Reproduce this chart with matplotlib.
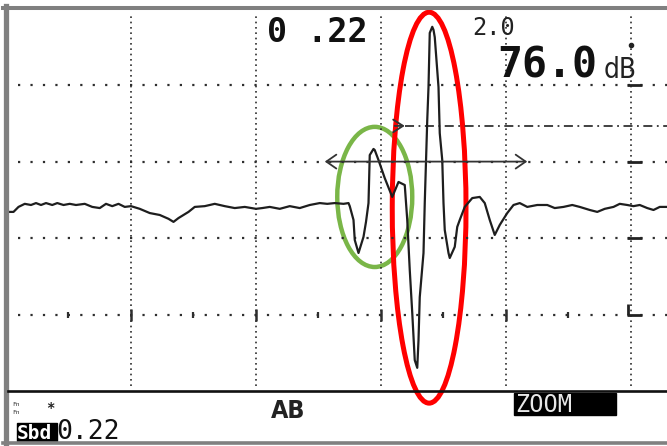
import matplotlib.pyplot as plt
from matplotlib.patches import Ellipse, Rectangle
from matplotlib.lines import Line2D

W, H = 667, 446  # output size in pixels

# ---------------- Data ----------------
# x: % of screen width (10 div = 100 %), y: % of full screen height
trace_x = [0.3, 0.6, 1.0, 1.5, 2.0, 2.4, 2.8, 3.2, 3.7, 4.1, 4.6, 5.1, 5.6, 6.3,
           6.9, 7.5, 8.0, 8.5, 9.0, 9.5, 10.0, 10.7, 11.5, 12.3, 13.0, 13.4,
           13.8, 14.6, 15.1, 15.9, 16.7, 17.5, 18.3, 19.1, 20.0, 20.5, 21.1,
           21.9, 22.7, 23.5, 24.3, 25.1, 25.7, 26.3, 27.0, 27.4, 27.5, 27.8,
           27.9, 28.2, 28.6, 28.8, 29.0, 29.1, 29.4, 29.5, 29.8, 30.3, 30.9,
           31.4, 31.9, 32.1, 32.3, 32.5, 32.7, 32.9, 33.0, 33.1, 33.4, 33.5,
           33.7, 33.8, 33.9, 34.1, 34.2, 34.3, 34.6, 34.7, 34.9, 35.0, 35.1,
           35.4, 35.5, 35.9, 36.1, 36.3, 36.7, 37.3, 37.9, 38.3, 38.7, 39.1,
           39.5, 40.1, 40.6, 41.1, 41.7, 42.5, 43.3, 43.9, 44.6, 45.3, 45.9,
           46.7, 47.3, 47.9, 48.6, 49.1, 49.7, 50.2, 50.7, 51.3, 51.8, 52.3, 52.9]
trace_y = [46.9, 46.9, 48.2, 49.0, 48.7, 49.2, 48.7, 49.2, 48.7, 49.2, 48.7, 49.0,
           48.7, 49.0, 48.2, 47.9, 49.0, 48.4, 49.0, 48.2, 48.4, 47.7, 46.6,
           46.1, 45.1, 44.3, 45.3, 46.9, 48.2, 48.4, 49.0, 48.4, 47.9, 48.2,
           47.7, 47.9, 48.2, 47.7, 48.4, 47.9, 48.7, 49.2, 49.0, 49.2, 49.0,
           49.2, 48.4, 44.8, 39.6, 36.2, 40.4, 44.3, 49.2, 61.7, 63.3, 63.0,
           60.4, 55.7, 50.8, 54.7, 53.9, 44.8, 31.8, 20.6, 8.3, 6.3, 13.5,
           24.7, 36.2, 49.2, 70.8, 79.4, 93.5, 95.1, 94.3, 92.4, 79.4, 67.4,
           60.4, 49.2, 42.2, 36.2, 34.9, 37.8, 43.0, 44.8, 48.2, 50.5, 50.8,
           49.2, 44.8, 40.9, 43.5, 46.6, 48.7, 49.2, 48.2, 48.7, 48.7, 47.9,
           48.2, 48.7, 48.2, 47.4, 46.9, 47.7, 48.2, 49.0, 48.7, 48.4, 48.7,
           47.9, 47.4, 48.2, 48.2]

grid_x = [10, 20, 30, 40, 50]
grid_y = [20, 40, 60, 80]
half_ticks = [5, 15, 25, 35, 45]

gate_a = [25.5, 41.7]      # start / end of gate A
gate_a_level = 60
gate_b_start = 31.9
gate_b_level = 69.3

sound_path = "0 .22"
range_txt = "2.0"
gain_txt = "76.0"
gain_unit = "dB"
gate_txt = "AB"
zoom_txt = "ZOOM"
status_key = "Sbd"
status_val = "0.22"

XMAX = 661 / 12.5  # visible part of the screen


def fx(x):
    return x / W


def fy(y):
    return 1 - y / H


# ---------------- Figure ----------------
fig = plt.figure(figsize=(W / 100, H / 100), dpi=100)
fig.patch.set_facecolor("white")

ax = fig.add_axes([fx(6), fy(392), 661 / W, 384 / H])
ax.set_xlim(0, XMAX)
ax.set_ylim(0, 100)
ax.set_axis_off()

grid_col = "#2e2e2e"
for gx in grid_x:
    ax.axvline(gx, ymin=0.015, ymax=0.985, color=grid_col, lw=1.2, dashes=(1, 2.2))
for gy in grid_y:
    ax.axhline(gy, xmin=12 / 661, xmax=1, color=grid_col, lw=1.6, dashes=(1, 4.6))

# small division marks on the 20 % line and the right hand scale
ax.plot(half_ticks, [grid_y[0]] * len(half_ticks), ls="", marker="|", ms=5,
        mew=1.6, color=grid_col)
ax.plot(grid_x[:-1], [grid_y[0]] * (len(grid_x) - 1), ls="", marker="|", ms=8,
        mew=1.8, color=grid_col)
ax.hlines(grid_y[1:], 49.7, 50.9, color="#222222", lw=2)
ax.hlines(grid_y[0], 49.7, 50.9, color="#222222", lw=2)
ax.vlines(49.75, grid_y[0], grid_y[0] + 3, color="#222222", lw=2)
ax.plot([grid_x[-1]], [90.4], ls="", marker="o", ms=3, color="#222222")

# gates
ax.annotate("", xy=(gate_a[1], gate_a_level), xytext=(gate_a[0], gate_a_level),
            arrowprops=dict(arrowstyle="<->,head_length=0.72,head_width=0.5",
                            lw=1.3, color="#333333", shrinkA=0, shrinkB=0))
ax.plot([gate_b_start, XMAX], [gate_b_level, gate_b_level], color="#333333",
        lw=1.3, dashes=(5, 2.5, 1, 2.5))
ax.annotate("", xy=(gate_b_start, gate_b_level),
            xytext=(gate_b_start - 0.8, gate_b_level),
            arrowprops=dict(arrowstyle="->,head_length=0.7,head_width=0.45",
                            lw=1.4, color="#333333", shrinkA=0, shrinkB=0))

# A-scan trace
ax.plot(trace_x, trace_y, color="#1e1e1e", lw=1.6)

# highlight ellipses
ax.add_patch(Ellipse((29.5, 50.8), 6.0, 36.5, fill=False, ec="#7ab648",
                     lw=3.2, clip_on=False))
ax.add_patch(Ellipse((33.85, 48.0), 5.9, 101.8, fill=False, ec="#ff0000",
                     lw=3.6, clip_on=False))

# ---------------- Frame / status bar ----------------
gray = "#808080"
fig.add_artist(Line2D([fx(5.5), fx(5.5)], [fy(6), fy(445)], color=gray, lw=3.8))
fig.add_artist(Line2D([fx(3), fx(667)], [fy(8), fy(8)], color=gray, lw=2.9))
fig.add_artist(Line2D([fx(3), fx(667)], [fy(443), fy(443)], color=gray, lw=2.6))
fig.add_artist(Line2D([fx(8), fx(667)], [fy(390.5), fy(390.5)], color="#111111", lw=1.9))

mono = "DejaVu Sans Mono"

fig.text(fx(267), fy(42), sound_path, family=mono, weight="bold", size=24,
         va="baseline", ha="left", color="#111111")
fig.text(fx(472), fy(35), range_txt, family=mono, size=17, va="baseline",
         ha="left", color="#222222")
fig.text(fx(497), fy(78), gain_txt, family=mono, weight="bold", size=30,
         va="baseline", ha="left", color="#111111")
fig.text(fx(604), fy(78), gain_unit, family="DejaVu Sans", stretch="condensed",
         size=20, va="baseline", ha="left", color="#222222")

fig.text(fx(271), fy(418), gate_txt, family="DejaVu Sans", stretch="condensed",
         weight="bold", size=18, va="baseline", ha="left", color="#222222")

fig.add_artist(Rectangle((fx(514), fy(415)), 102 / W, 22 / H, color="black",
                         transform=fig.transFigure))
fig.text(fx(515), fy(412), zoom_txt, family=mono, size=17, va="baseline",
         ha="left", color="#e8e8e8")

fig.add_artist(Rectangle((fx(17), fy(441)), 40 / W, 18 / H, color="black",
                         transform=fig.transFigure))
fig.text(fx(17), fy(439), status_key, family=mono, weight="bold", size=14,
         va="baseline", ha="left", color="white")
fig.text(fx(56), fy(439), status_val, family=mono, size=19, va="baseline",
         ha="left", color="#111111")

fig.text(fx(12), fy(406), "Fn", family=mono, size=4.5, va="baseline",
         ha="left", color="#333333")
fig.text(fx(12), fy(414), "Fn", family=mono, size=4.5, va="baseline",
         ha="left", color="#333333")
fig.text(fx(50), fy(408), "*", family=mono, weight="bold", size=10,
         va="center", ha="center", color="#222222")

fig.savefig("out.png", dpi=100, facecolor="white")
